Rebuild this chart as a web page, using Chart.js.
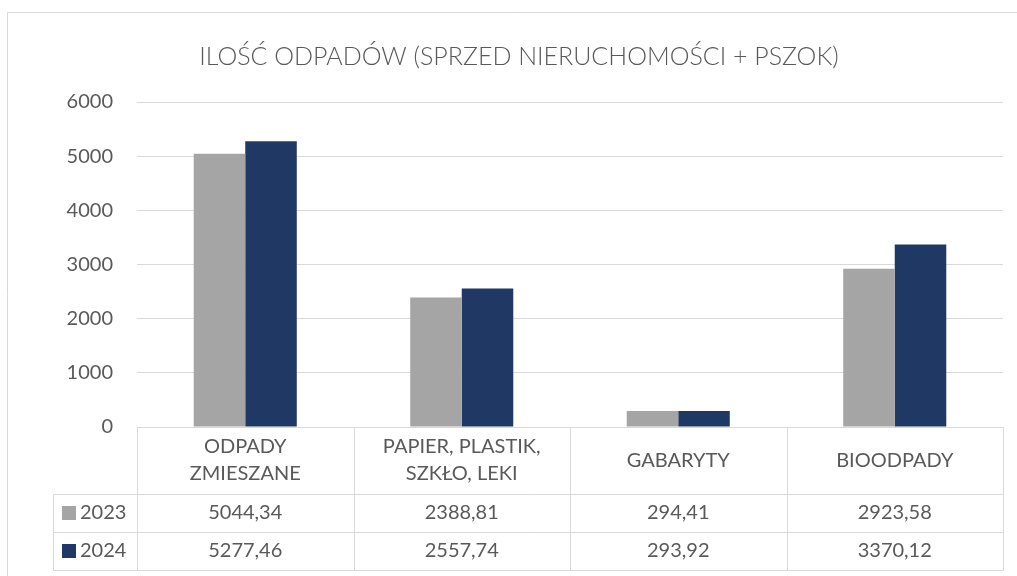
<!DOCTYPE html>
<html><head><meta charset="utf-8">
<script src="https://cdn.jsdelivr.net/npm/chart.js@4.4.1/dist/chart.umd.min.js"></script>
<style>html,body{margin:0;padding:0;background:#fff}#wrap{position:relative;width:1017px;height:576px}</style>
</head><body><div id="wrap"><canvas id="c" width="1017" height="576"></canvas></div>
<script>
const categories = [["ODPADY","ZMIESZANE"],["PAPIER, PLASTIK,","SZKŁO, LEKI"],["GABARYTY"],["BIOODPADY"]];
const seriesNames = ["2023","2024"];
const values2023 = [5044.34, 2388.81, 294.41, 2923.58];
const values2024 = [5277.46, 2557.74, 293.92, 3370.12];
const yTicks = [0,1000,2000,3000,4000,5000,6000];
const titleText = "ILOŚĆ ODPADÓW (SPRZED NIERUCHOMOŚCI + PSZOK)";

const colors = ["#a5a5a5","#203864"];
const textColor = "#595959";
const gridColor = "#d9d9d9";
const FONT = "Lato, 'Open Sans', sans-serif";

const fmt = v => v.toFixed(2).replace('.', ',');

const tablePlugin = {
  id: 'dataTable',
  afterDraw(chart) {
    const ctx = chart.ctx;
    const x = chart.scales.x, area = chart.chartArea;
    const n = categories.length;
    const left = area.left, right = area.right;
    const colW = (right - left) / n;
    const top = area.bottom;
    const hdrB = top + 67, r1B = hdrB + 38, r2B = r1B + 38;
    const legL = 53;
    ctx.save();
    // title
    ctx.fillStyle = textColor;
    ctx.font = "300 25px " + FONT;
    ctx.textAlign = "center"; ctx.textBaseline = "middle";
    ctx.fillText(titleText, 519, 57);

    ctx.strokeStyle = gridColor; ctx.lineWidth = 1;
    const line = (x1,y1,x2,y2)=>{ctx.beginPath();ctx.moveTo(Math.round(x1)+0.5,Math.round(y1)+0.5);ctx.lineTo(Math.round(x2)+0.5,Math.round(y2)+0.5);ctx.stroke();};
    line(left, top, right, top);
    line(legL, hdrB, right, hdrB);
    line(legL, r1B, right, r1B);
    line(legL, r2B, right, r2B);
    line(legL, hdrB, legL, r2B);
    for (let i=0;i<=n;i++){ const xx = left + i*colW; line(xx, top, xx, r2B); }
    ctx.fillStyle = textColor;
    ctx.font = "20px " + FONT;
    categories.forEach((lab,i)=>{
      const cx = x.getPixelForValue(i);
      const cy = (top + hdrB)/2;
      if (lab.length === 1) ctx.fillText(lab[0], cx, cy);
      else { ctx.fillText(lab[0], cx, cy-13.5); ctx.fillText(lab[1], cx, cy+13.5); }
    });
    const rows = [values2023, values2024];
    const rowY = [(hdrB+r1B)/2, (r1B+r2B)/2];
    rows.forEach((vals,r)=>{
      vals.forEach((v,i)=>{ ctx.fillStyle = textColor; ctx.textAlign="center"; ctx.fillText(fmt(v), x.getPixelForValue(i), rowY[r]); });
      ctx.fillStyle = colors[r];
      ctx.fillRect(62, Math.round(rowY[r]-7), 14, 14);
      ctx.fillStyle = textColor; ctx.textAlign = "left";
      ctx.fillText(seriesNames[r], 80, rowY[r]);
    });
    // outer border (top and left visible)
    ctx.strokeStyle = gridColor;
    line(7, 12, 1017, 12);
    line(7, 12, 7, 576);
    ctx.restore();
  }
};

new Chart(document.getElementById('c'), {
  type: 'bar',
  data: {
    labels: categories,
    datasets: [
      {label: seriesNames[0], data: values2023, backgroundColor: colors[0]},
      {label: seriesNames[1], data: values2024, backgroundColor: colors[1]}
    ]
  },
  options: {
    responsive: false, animation: false,
    devicePixelRatio: 1,
    layout: {padding: {left: 0, right: 14, top: 102, bottom: 149}},
    datasets: {bar: {categoryPercentage: 0.476, barPercentage: 1.0}},
    plugins: {
      legend: {display: false}, tooltip: {enabled: false},
      title: {display: false}
    },
    scales: {
      x: {display: false, grid: {display: false}},
      y: {min: 0, max: 6000,
        afterFit(s){ s.width = 137; },
        afterBuildTicks(s){ s.ticks = yTicks.map(v=>({value:v})); },
        border: {display: false},
        grid: {color: gridColor, drawTicks: false},
        ticks: {color: textColor, font: {family: FONT, size: 20}, padding: 24,
          callback: v => String(v)}
      }
    }
  },
  plugins: [tablePlugin]
});
</script></body></html>
